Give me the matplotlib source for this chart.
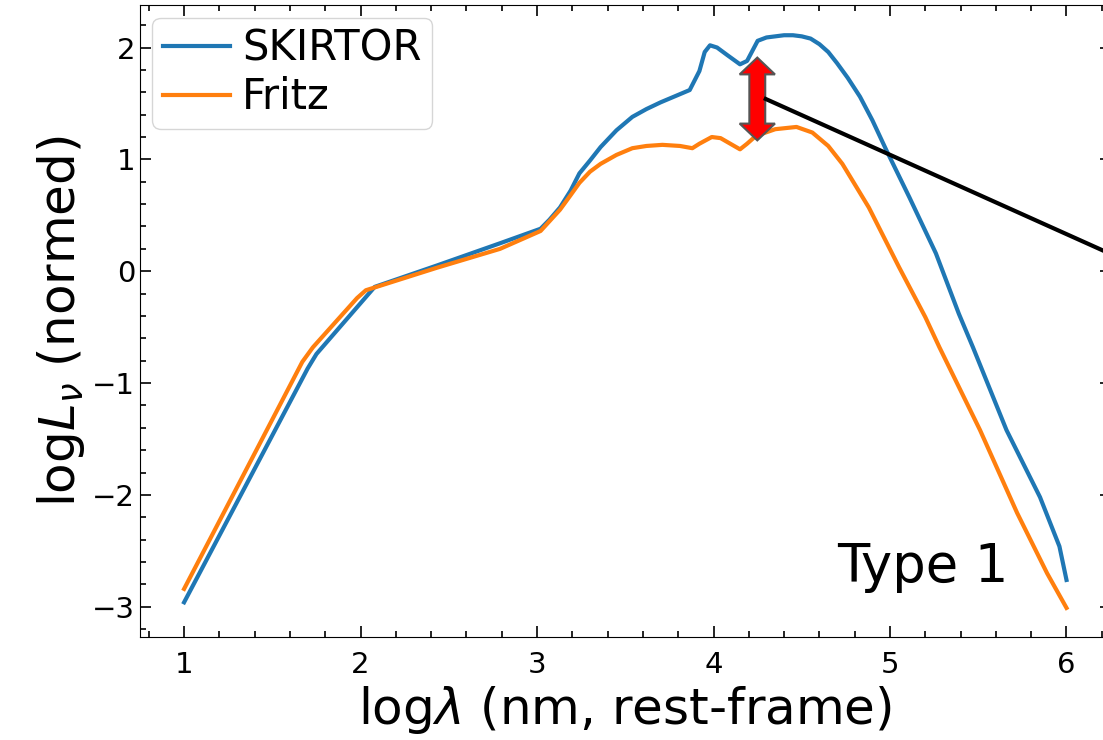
import matplotlib
matplotlib.use("Agg")
import matplotlib.pyplot as plt
from matplotlib.patches import Polygon
from matplotlib.ticker import AutoMinorLocator

# SKIRTOR curve
skirtor_x = [1.00, 1.70, 1.75, 2.08, 2.43, 2.79, 3.02, 3.07, 3.13, 3.19, 3.24,
             3.30, 3.36, 3.45, 3.54, 3.62, 3.70, 3.79, 3.865, 3.92, 3.95, 3.98,
             4.02, 4.08, 4.15, 4.19, 4.25, 4.30, 4.35, 4.40, 4.45, 4.50, 4.55,
             4.60, 4.65, 4.70, 4.76, 4.83, 4.90, 4.98, 5.11, 5.26, 5.39, 5.47,
             5.66, 5.85, 5.96, 6.00]
skirtor_y = [-2.96, -0.87, -0.74, -0.14, 0.05, 0.25, 0.38, 0.46, 0.57, 0.72, 0.875,
             0.99, 1.11, 1.26, 1.38, 1.45, 1.51, 1.57, 1.62, 1.79, 1.96, 2.02,
             2.00, 1.93, 1.85, 1.88, 2.06, 2.09, 2.10, 2.11, 2.11, 2.10, 2.08,
             2.03, 1.96, 1.86, 1.73, 1.56, 1.35, 1.08, 0.66, 0.16, -0.38, -0.68,
             -1.42, -2.02, -2.46, -2.76]

# Fritz curve
fritz_x = [1.00, 1.67, 1.73, 1.98, 2.03, 2.09, 2.43, 2.79, 3.02, 3.13, 3.19,
           3.24, 3.30, 3.36, 3.45, 3.54, 3.62, 3.71, 3.81, 3.88, 3.92, 3.99,
           4.04, 4.15, 4.19, 4.24, 4.35, 4.47, 4.56, 4.65, 4.73, 4.88, 5.05,
           5.20, 5.28, 5.51, 5.72, 5.89, 6.00]
fritz_y = [-2.84, -0.81, -0.68, -0.24, -0.17, -0.14, 0.03, 0.20, 0.36, 0.55, 0.68,
           0.79, 0.89, 0.96, 1.04, 1.10, 1.12, 1.13, 1.12, 1.10, 1.14, 1.20,
           1.19, 1.09, 1.14, 1.21, 1.27, 1.29, 1.24, 1.12, 0.96, 0.57, 0.04,
           -0.41, -0.68, -1.42, -2.16, -2.70, -3.01]

# double arrow marking the gap, and pointer line
arrow_x = 4.248
arrow_lo, arrow_hi = 1.17, 1.91
pointer_x = [4.296, 6.8]
pointer_y = [1.54, 1.54 - 0.709 * (6.8 - 4.296)]

fig = plt.figure(figsize=(11.03, 7.40), dpi=100)
ax = fig.add_axes([0.1269, 0.1392, 0.880, 0.854])

ax.plot(skirtor_x, skirtor_y, color="#1f77b4", lw=3, label="SKIRTOR")
ax.plot(fritz_x, fritz_y, color="#ff7f0e", lw=3, label="Fritz")

# fat double-headed arrow
bw, hw, hl = 0.045, 0.10, 0.15
pts = [
    (arrow_x, arrow_hi),
    (arrow_x + hw, arrow_hi - hl),
    (arrow_x + bw, arrow_hi - hl),
    (arrow_x + bw, arrow_lo + hl),
    (arrow_x + hw, arrow_lo + hl),
    (arrow_x, arrow_lo),
    (arrow_x - hw, arrow_lo + hl),
    (arrow_x - bw, arrow_lo + hl),
    (arrow_x - bw, arrow_hi - hl),
    (arrow_x - hw, arrow_hi - hl),
]
ax.add_patch(Polygon(pts, closed=True, facecolor="red", edgecolor="#555555",
                     lw=1.5, zorder=4))

ax.plot(pointer_x, pointer_y, color="black", lw=3, clip_on=False, zorder=5)

ax.text(4.70, -2.78, "Type 1", fontsize=38, ha="left", va="baseline")

ax.set_xlim(0.75, 6.25)
ax.set_ylim(-3.27, 2.38)
ax.set_xticks([1, 2, 3, 4, 5, 6])
ax.set_yticks([-3, -2, -1, 0, 1, 2])
ax.xaxis.set_minor_locator(AutoMinorLocator(5))
ax.yaxis.set_minor_locator(AutoMinorLocator(5))
ax.tick_params(which="both", direction="in", top=True, right=True,
               labelsize=21, width=1.2)
ax.tick_params(which="major", length=8)
ax.tick_params(which="minor", length=4)
ax.tick_params(axis="x", pad=10)

ax.set_xlabel(r"log$\lambda$ (nm, rest-frame)", fontsize=36)
ax.set_ylabel(r"log$L_\nu$ (normed)", fontsize=36)

ax.legend(loc="upper left", fontsize=30, handlelength=1.6,
          borderaxespad=0.3, handletextpad=0.3, labelspacing=0.15,
          borderpad=0.25)

fig.savefig("out.png", dpi=100)
